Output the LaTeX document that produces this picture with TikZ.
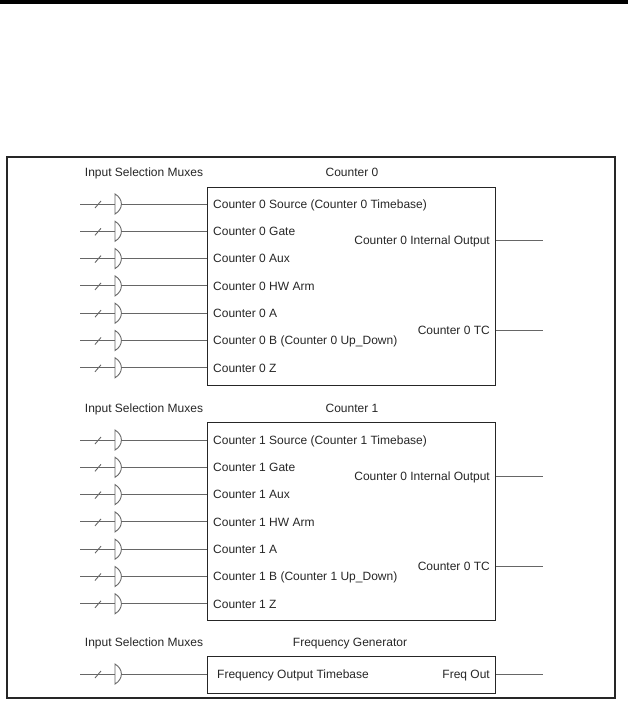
\documentclass[tikz,border=0pt]{standalone}
\usepackage{fontspec}
\setmainfont{Liberation Sans}
\usetikzlibrary{calc}
\definecolor{inkgray}{gray}{0.15}
\definecolor{wiregray}{gray}{0.4}
\tikzset{
  blockbox/.style={draw=inkgray, line width=0.9pt, inner sep=0pt, anchor=north west},
  lbl/.style={text=inkgray, inner sep=0pt, text height=8.6pt, text depth=0pt, font=\fontsize{12}{14}\selectfont},
  wire/.style={draw=wiregray, line width=0.9pt},
  muxsym/.pic={
    \draw[wire] (-35,0) -- (0,0);
    \draw[wire] (-20,4) -- (-14,-3);
    \draw[wire] (0,-10) -- (0,10) .. controls (8.5,5) and (8.5,-5) .. cycle;
    \coordinate (-out) at (6.4,0);
  }
}

\begin{document}
\begin{tikzpicture}[x=1pt,y=-1pt]
  \useasboundingbox (0,0) rectangle (628,708);
  \fill[black] (0,0) rectangle (628,4.5);
  \draw[inkgray, line width=1.1pt] (7,157) rectangle (615,698);

  % counter 0
  \node[lbl] (c0mux) at (144,172) {Input Selection Muxes};
  \node[lbl] (c0head) at (352,172) {Counter 0};
  \node[blockbox, minimum width=288pt, minimum height=198pt] (c0box) at (207,187) {};
  \foreach \txt [count=\i] in {{Counter 0 Source (Counter 0 Timebase)}, {Counter 0 Gate}, {Counter 0 Aux},
      {Counter 0 HW Arm}, {Counter 0 A}, {Counter 0 B (Counter 0 Up\_Down)}, {Counter 0 Z}} {
    \node[lbl, anchor=west] (c0r\i) at (213,{204+27.3*(\i-1)}) {\txt};
    \pic (c0m\i) at (115,{204+27.3*(\i-1)}) {muxsym};
    \draw[wire] (c0m\i-out) -- (c0box.west |- c0r\i);
  }
  \node[lbl, anchor=east] (c0int) at (490,240) {Counter 0 Internal Output};
  \node[lbl, anchor=east] (c0tc) at (490,330) {Counter 0 TC};
  \coordinate (c0intend) at (543,240);
  \coordinate (c0tcend) at (543,330);
  \draw[wire] (c0box.east |- c0int) -- (c0intend);
  \draw[wire] (c0box.east |- c0tc) -- (c0tcend);

  % counter 1
  \node[lbl] (c1mux) at (144,408) {Input Selection Muxes};
  \node[lbl] (c1head) at (352,408) {Counter 1};
  \node[blockbox, minimum width=288pt, minimum height=198pt] (c1box) at (207,422) {};
  \foreach \txt [count=\i] in {{Counter 1 Source (Counter 1 Timebase)}, {Counter 1 Gate}, {Counter 1 Aux},
      {Counter 1 HW Arm}, {Counter 1 A}, {Counter 1 B (Counter 1 Up\_Down)}, {Counter 1 Z}} {
    \node[lbl, anchor=west] (c1r\i) at (213,{440+27.3*(\i-1)}) {\txt};
    \pic (c1m\i) at (115,{440+27.3*(\i-1)}) {muxsym};
    \draw[wire] (c1m\i-out) -- (c1box.west |- c1r\i);
  }
  \node[lbl, anchor=east] (c1int) at (490,476) {Counter 0 Internal Output};
  \node[lbl, anchor=east] (c1tc) at (490,566) {Counter 0 TC};
  \coordinate (c1intend) at (543,476);
  \coordinate (c1tcend) at (543,566);
  \draw[wire] (c1box.east |- c1int) -- (c1intend);
  \draw[wire] (c1box.east |- c1tc) -- (c1tcend);

  % frequency generator
  \node[lbl] (fgmux) at (144,642) {Input Selection Muxes};
  \node[lbl] (fghead) at (350,642) {Frequency Generator};
  \node[blockbox, minimum width=288pt, minimum height=37pt] (fgbox) at (207,656) {};
  \node[lbl, anchor=west] (fgtb) at (217,674) {Frequency Output Timebase};
  \node[lbl, anchor=east] (fgout) at (490,674) {Freq Out};
  \pic (fgm) at (115,674) {muxsym};
  \coordinate (fgend) at (543,674);
  \draw[wire] (fgm-out) -- (fgbox.west |- fgtb);
  \draw[wire] (fgbox.east |- fgout) -- (fgend);
\end{tikzpicture}
\end{document}
